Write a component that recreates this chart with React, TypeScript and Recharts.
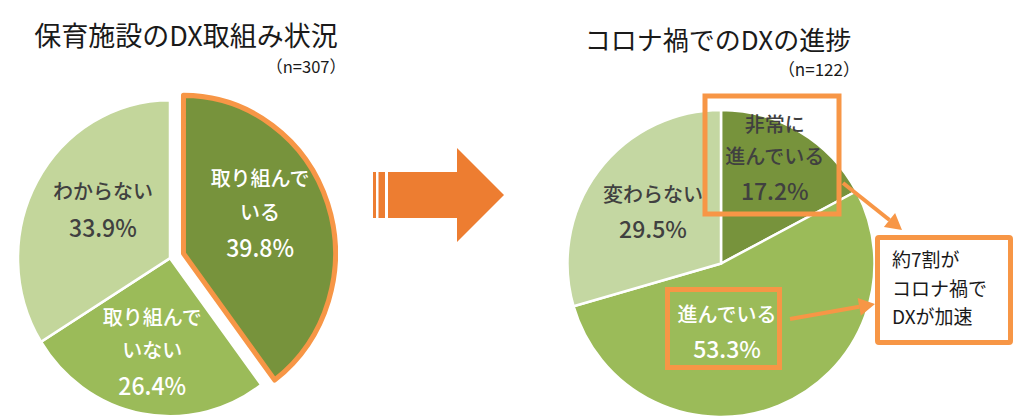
import { PieChart, Pie, Cell } from "recharts"

// 保育施設のDX取組み状況 (n=307)
const effortCategories = ["取り組んで\nいる", "取り組んで\nいない", "わからない"]
const effortValues = [39.8, 26.4, 33.9]

// コロナ禍でのDXの進捗 (n=122)
const progressCategories = ["非常に\n進んでいる", "進んでいる", "変わらない"]
const progressValues = [17.2, 53.3, 29.5]

const effortData = effortCategories.map((name, i) => ({ name, value: effortValues[i] }))
const progressData = progressCategories.map((name, i) => ({ name, value: progressValues[i] }))

const FONT = '"Noto Sans CJK JP", "Noto Sans", sans-serif'
const ORANGE = "#F79646"
const ARROW = "#ED7D31"
const DARK_TEXT = "#404040"

const EFFORT_COLORS = ["#77933C", "#9BBB59", "#C3D69B"]
const PROGRESS_COLORS = ["#77933C", "#9BBB59", "#C4D7A2"]
const EFFORT_TEXT = ["#ffffff", "#ffffff", DARK_TEXT]
const PROGRESS_TEXT = [DARK_TEXT, "#ffffff", DARK_TEXT]

// hand-placed label shifts, as in the original workbook
const EFFORT_NUDGE = [[-7, -10.6], [-1.5, 3.3], [10, -3.6]]
const PROGRESS_NUDGE = [[8, -28.7], [-27.5, -13.5], [3.2, 2.4]]

// the left pie is drawn slightly taller than wide
const LEFT = { cx: 165, cy: 253, r: 152, stretch: 1.04 }
const RIGHT = { cx: 716, cy: 258.5, r: 153.5 }
const EXPLODE = 14.2

const RAD = Math.PI / 180

// pull the first slice out along its own mid angle
const effortTotal = effortValues.reduce((a, b) => a + b, 0)
const explodeMid = (effortValues[0] / effortTotal) * 180 * RAD
const explodeDx = Math.sin(explodeMid) * EXPLODE
const explodeDy = -Math.cos(explodeMid) * EXPLODE

type LabelOpts = { colors: string[]; nudges: number[][]; only?: number; skip?: number }

const makeLabel = (opts: LabelOpts) => (props: any) => {
  const { cx, cy, midAngle, outerRadius, index, name, value } = props
  if (opts.only !== undefined && index !== opts.only) return null
  if (opts.skip !== undefined && index === opts.skip) return null
  const r = outerRadius * 0.58
  const x = cx + r * Math.cos(-midAngle * RAD) + opts.nudges[index][0]
  const y = cy + r * Math.sin(-midAngle * RAD) + opts.nudges[index][1]
  const lines = String(name).split("\n")
  const span = (lines.length - 1) * 32 + 35
  const top = y - span / 2
  return (
    <text textAnchor="middle" fill={opts.colors[index]} fontFamily={FONT} fontWeight={500}>
      {lines.map((l, i) => (
        <tspan key={i} x={x} y={top + i * 32 + 7.4} fontSize={20}>
          {l}
        </tspan>
      ))}
      <tspan x={x} y={top + (lines.length - 1) * 32 + 35 + 8.5} fontSize={23}>
        {Number(value).toFixed(1)}%
      </tspan>
    </text>
  )
}

const Connector = ({ x1, y1, x2, y2 }: { x1: number; y1: number; x2: number; y2: number }) => {
  const ang = Math.atan2(y2 - y1, x2 - x1)
  const head = 16
  const half = 9
  const bx = x2 - head * Math.cos(ang)
  const by = y2 - head * Math.sin(ang)
  const px = -Math.sin(ang) * half
  const py = Math.cos(ang) * half
  return (
    <g>
      <line x1={x1} y1={y1} x2={bx} y2={by} stroke={ORANGE} strokeWidth={4} />
      <polygon points={`${x2},${y2} ${bx + px},${by + py} ${bx - px},${by - py}`} fill={ORANGE} />
    </g>
  )
}

const layer: React.CSSProperties = { position: "absolute", left: 0, top: 0 }

export default function App() {
  return (
    <div
      style={{
        position: "absolute",
        left: 0,
        top: 0,
        width: 1024,
        height: 419,
        background: "#ffffff",
        overflow: "hidden",
      }}
    >
      <div
        style={{
          ...layer,
          transform: `scale(1, ${LEFT.stretch})`,
          transformOrigin: `${LEFT.cx}px ${LEFT.cy}px`,
        }}
      >
        <PieChart width={360} height={419}>
          <Pie
            data={effortData}
            dataKey="value"
            nameKey="name"
            cx={LEFT.cx}
            cy={LEFT.cy}
            outerRadius={LEFT.r}
            startAngle={90}
            endAngle={-270}
            stroke="#ffffff"
            strokeWidth={2.5}
            labelLine={false}
            label={makeLabel({ colors: EFFORT_TEXT, nudges: EFFORT_NUDGE, skip: 0 })}
            isAnimationActive={false}
          >
            {effortData.map((_, i) => (
              <Cell
                key={`e-${i}`}
                fill={i === 0 ? "none" : EFFORT_COLORS[i]}
                stroke={i === 0 ? "none" : "#ffffff"}
              />
            ))}
          </Pie>
          <Pie
            data={effortData}
            dataKey="value"
            nameKey="name"
            cx={LEFT.cx + explodeDx}
            cy={LEFT.cy + explodeDy}
            outerRadius={LEFT.r}
            startAngle={90}
            endAngle={-270}
            labelLine={false}
            label={makeLabel({ colors: EFFORT_TEXT, nudges: EFFORT_NUDGE, only: 0 })}
            isAnimationActive={false}
          >
            {effortData.map((_, i) => (
              <Cell
                key={`x-${i}`}
                fill={i === 0 ? EFFORT_COLORS[0] : "none"}
                stroke={i === 0 ? ORANGE : "none"}
                strokeWidth={i === 0 ? 5 : 0}
                strokeLinejoin="round"
              />
            ))}
          </Pie>
        </PieChart>
      </div>

      <div style={layer}>
        <PieChart width={1024} height={419}>
          <Pie
            data={progressData}
            dataKey="value"
            nameKey="name"
            cx={RIGHT.cx}
            cy={RIGHT.cy}
            outerRadius={RIGHT.r}
            startAngle={90}
            endAngle={-270}
            stroke="#ffffff"
            strokeWidth={2.5}
            labelLine={false}
            label={makeLabel({ colors: PROGRESS_TEXT, nudges: PROGRESS_NUDGE })}
            isAnimationActive={false}
          >
            {progressData.map((_, i) => (
              <Cell key={`p-${i}`} fill={PROGRESS_COLORS[i]} />
            ))}
          </Pie>
        </PieChart>
      </div>

      <svg
        width={1024}
        height={419}
        style={{ ...layer, pointerEvents: "none" }}
        fontFamily={FONT}
      >
        <text x={186} y={46} fontSize={27} textAnchor="middle" fill="#1a1a1a">
          保育施設のDX取組み状況
        </text>
        <text x={346} y={72.5} fontSize={16.5} textAnchor="end" fill="#1a1a1a">
          （n=307）
        </text>
        <text x={718} y={50} fontSize={26} textAnchor="middle" fill="#1a1a1a">
          コロナ禍でのDXの進捗
        </text>
        <text x={860} y={76} fontSize={17} textAnchor="end" fill="#1a1a1a">
          （n=122）
        </text>

        {/* big transition arrow */}
        <g fill={ARROW}>
          <rect x={373} y={172} width={3} height={46} />
          <rect x={378.5} y={172} width={6.5} height={46} />
          <polygon points="388,172 457,172 457,148 504,195 457,242 457,218 388,218" />
        </g>

        {/* highlight boxes */}
        <rect x={705} y={96} width={134} height={118} fill="none" stroke={ORANGE} strokeWidth={5} />
        <rect x={667.5} y={289.5} width={112} height={78} fill="none" stroke={ORANGE} strokeWidth={5} />

        <Connector x1={843} y1={183} x2={902} y2={230} />
        <Connector x1={790} y1={319} x2={875} y2={304} />

        {/* callout */}
        <rect x={877.5} y={237.5} width={133} height={105} fill="#ffffff" stroke={ORANGE} strokeWidth={5} rx={1.5} />
        <g fontSize={19} fill="#1a1a1a">
          <text x={892} y={267}>約7割が</text>
          <text x={892} y={295.5}>コロナ禍で</text>
          <text x={892} y={324}>DXが加速</text>
        </g>
      </svg>
    </div>
  )
}
